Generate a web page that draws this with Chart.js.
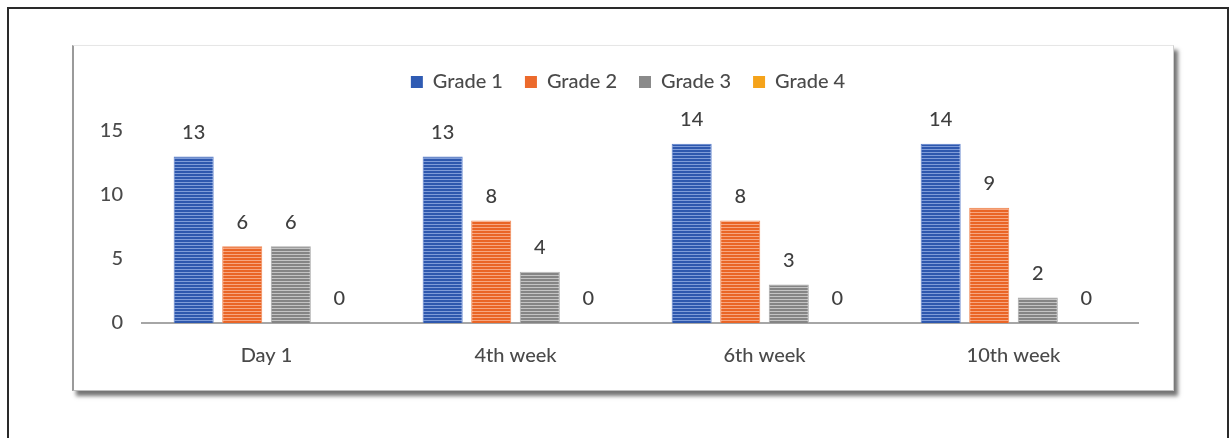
<!DOCTYPE html>
<html>
<head>
<meta charset="utf-8">
<script src="https://cdn.jsdelivr.net/npm/chart.js@4.4.1/dist/chart.umd.min.js"></script>
<style>
  html, body { margin: 0; padding: 0; background: #fff; }
  body { width: 1230px; height: 438px; position: relative; overflow: hidden; }
  .frame { position: absolute; left: 7px; top: 7px; width: 1218px; height: 450px; border: 2px solid #2a2a2a; }
  .card {
    position: absolute; left: 72px; top: 45px; width: 1099px; height: 344px;
    background: #fff; border-top: 1px solid #e6e6e6; border-left: 2px solid #9a9a9a;
    border-right: 1px solid #cfcfcf; border-bottom: 1px solid #bdbdbd;
    box-shadow: 4px 5px 4px rgba(0, 0, 0, 0.55);
  }
  #chart { position: absolute; left: 0; top: 0; }
</style>
</head>
<body>
<div class="frame"></div>
<div class="card"></div>
<canvas id="chart" width="1230" height="438"></canvas>
<script>
// weekly counts per grade
const categories = ["Day 1", "4th week", "6th week", "10th week"];
const grade1 = [13, 13, 14, 14];
const grade2 = [6, 8, 8, 9];
const grade3 = [6, 4, 3, 2];
const grade4 = [0, 0, 0, 0];
const yTicks = [0, 5, 10, 15];

const TEXT = "#4a4a4a";
const FONT = "Lato, 'Open Sans', sans-serif";
const SIZE = 20;
const WEIGHT = 500;

// horizontal-line fill like the office "narrow horizontal" pattern
function stripes(dark, light) {
  const c = document.createElement("canvas");
  c.width = 4;
  c.height = 3;
  const g = c.getContext("2d");
  g.fillStyle = dark;
  g.fillRect(0, 0, 4, 2);
  g.fillStyle = light;
  g.fillRect(0, 2, 4, 1);
  return g.createPattern(c, "repeat");
}

const series = [
  { label: "Grade 1", data: grade1, solid: "#2f5bb3", fill: stripes("#2e58ae", "#7f9cd8"), edge: "#5b7fcc" },
  { label: "Grade 2", data: grade2, solid: "#ec6a2c", fill: stripes("#ea6526", "#f7a680"), edge: "#f08a58" },
  { label: "Grade 3", data: grade3, solid: "#8a8a8a", fill: stripes("#858585", "#c4c4c4"), edge: "#a8a8a8" },
  { label: "Grade 4", data: grade4, solid: "#f5a31a", fill: "#f5a31a", edge: "#f5a31a" },
];

// value labels above each bar
const valueLabels = {
  id: "valueLabels",
  afterDatasetsDraw(chart) {
    const ctx = chart.ctx;
    ctx.save();
    ctx.font = WEIGHT + " " + SIZE + "px " + FONT;
    ctx.fillStyle = "#3f3f3f";
    ctx.textAlign = "center";
    ctx.textBaseline = "middle";
    chart.data.datasets.forEach((ds, i) => {
      chart.getDatasetMeta(i).data.forEach((bar, j) => {
        ctx.fillText(String(ds.data[j]), bar.x, bar.y - 24);
      });
    });
    ctx.restore();
  },
};

// legend gets a fixed band height and sits a little right of the plot centre
const legendBand = {
  id: "legendBand",
  beforeInit(chart) {
    const legend = chart.legend;
    const fit = legend.fit;
    legend.fit = function () {
      fit.call(this);
      this.height = 81;
    };
    const draw = legend.draw;
    legend.draw = function () {
      const ctx = this.ctx;
      ctx.save();
      ctx.translate(23, 0);
      draw.call(this);
      ctx.restore();
    };
  },
};

new Chart(document.getElementById("chart"), {
  type: "bar",
  data: {
    labels: categories,
    datasets: series.map((s) => ({
      label: s.label,
      data: s.data,
      backgroundColor: s.fill,
      borderColor: s.edge,
      borderWidth: 1,
      categoryPercentage: 0.78,
      barPercentage: 0.825,
    })),
  },
  options: {
    responsive: false,
    animation: false,
    layout: { padding: { left: 72, top: 50, right: 92, bottom: 0 } },
    plugins: {
      tooltip: { enabled: false },
      legend: {
        position: "top",
        labels: {
          color: TEXT,
          font: { family: FONT, size: SIZE, weight: WEIGHT },
          boxWidth: 12,
          boxHeight: 12,
          padding: 22,
          generateLabels(chart) {
            return series.map((s, i) => ({
              text: s.label,
              fillStyle: s.solid,
              strokeStyle: s.solid,
              lineWidth: 0,
              fontColor: TEXT,
              datasetIndex: i,
            }));
          },
        },
      },
    },
    scales: {
      x: {
        grid: { display: false },
        border: { color: "#a6a6a6", width: 2 },
        ticks: { color: TEXT, font: { family: FONT, size: SIZE, weight: WEIGHT }, padding: 13 },
        afterFit(scale) { scale.height = 115; },
      },
      y: {
        min: 0,
        max: 15,
        grid: { display: false },
        border: { display: false },
        afterBuildTicks(scale) { scale.ticks = yTicks.map((v) => ({ value: v })); },
        ticks: { color: TEXT, font: { family: FONT, size: SIZE, weight: WEIGHT }, padding: 11 },
        afterFit(scale) { scale.width = 70; },
      },
    },
  },
  plugins: [valueLabels, legendBand],
});
</script>
</body>
</html>
